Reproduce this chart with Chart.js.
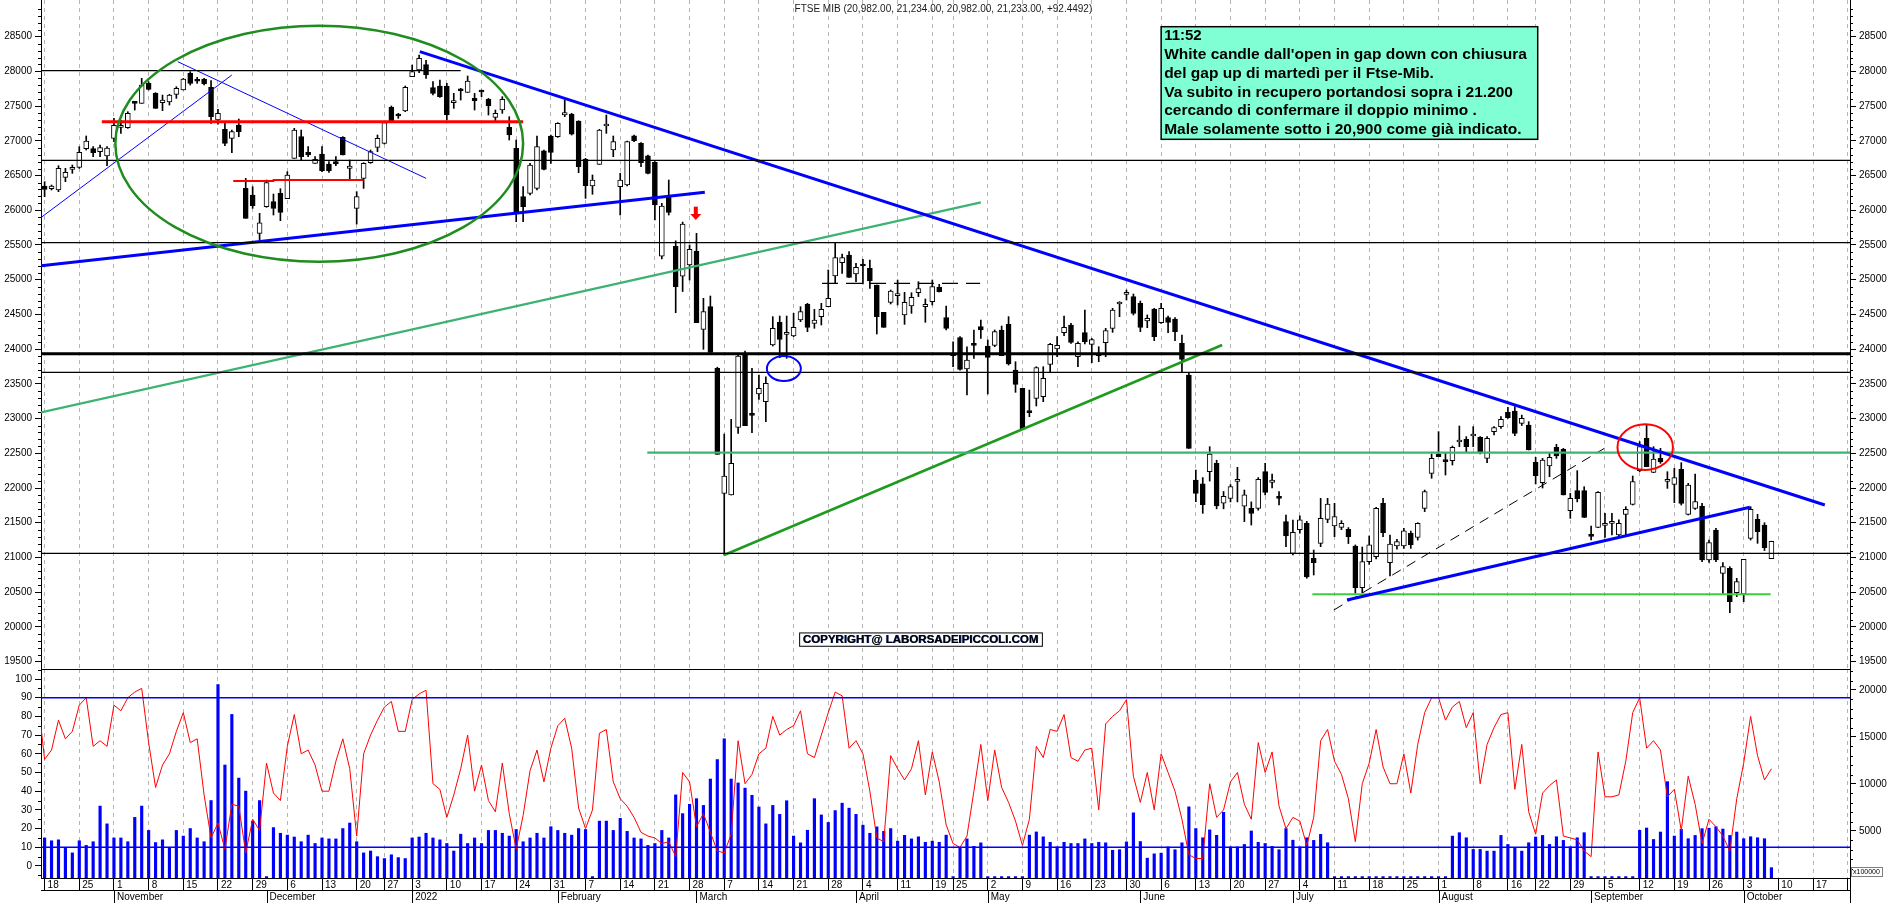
<!DOCTYPE html>
<html>
<head>
<meta charset="utf-8">
<script src="https://cdn.jsdelivr.net/npm/chart.js@4.4.0/dist/chart.umd.min.js"></script>
<style>
  html, body { margin: 0; padding: 0; background: #fff; overflow: hidden; }
  #wrap { position: relative; width: 1890px; height: 903px; }
  canvas { position: absolute; left: 0; }
  #main { top: 0; }
  #lower { top: 669px; }
</style>
</head>
<body>
<div id="wrap">
  <canvas id="main" width="1890" height="669"></canvas>
  <canvas id="lower" width="1890" height="234"></canvas>
</div>
<script>
// FTSE MIB daily candles, one slot per trading day (slot 0 = 18 Oct 2021, slot 249 = 7 Oct 2022)
const open = [
  26350,26312,26292,26474,26590,26618,26888,26888,26844,26782,
  27036,27194,27190,27560,27540,27828,27684,27550,27559,27670,
  27732,27972,27866,27890,27770,27300,27166,27036,27228,26316,
  26220,25668,26052,26124,26244,26167,26748,27060,26834,26676,
  26810,26666,26700,27050,26604,26028,26460,26686,26906,26964,
  27483,27372,27430,27924,28020,28100,27766,27790,27790,27550,
  27742,27699,27612,27722,27598,27338,27444,27194,26892,26196,
  26244,26316,26858,27070,27060,27372,27386,27286,26734,26350,
  26662,27214,26868,26340,26364,27074,26964,26786,26690,25340,
  26186,25480,25050,25212,25413,24285,24612,23723,21923,21899,
  22874,23940,23061,23354,23243,24060,24386,24213,24189,24420,
  24645,24372,24468,24612,25053,25245,25356,25082,25226,25164,
  24924,24530,24674,24770,24492,24621,24813,24612,24684,24890,
  24453,23906,24165,23714,24069,24324,24045,24055,24276,24357,
  23699,23435,23099,23291,23315,23781,24002,24237,24348,23891,
  24237,24069,23906,24093,24300,24650,24789,24756,24660,24405,
  24578,24381,24453,24434,24084,23627,22115,22060,22235,22355,
  21780,21851,22096,21740,21707,21707,22235,22082,21875,21515,
  21059,21400,21490,20987,21203,21549,21453,21433,21405,21165,
  20565,20940,21010,21780,20925,21165,21165,21347,21290,21707,
  22211,22490,22394,22394,22663,22701,22749,22730,22427,22811,
  22884,23090,23109,22932,22908,22370,22077,22317,22586,22557,
  21674,21962,21962,21318,21434,21462,21490,21323,21621,21765,
  22250,22715,22226,22427,22096,22053,22269,21621,21707,21741,
  20963,21395,20771,20843,20492,20473,21275,21549,21467,20982
];
const high = [
  26412,26364,26642,26604,26652,26916,27070,26916,26940,26916,
  27324,27300,27420,27564,27900,27852,27694,27660,27670,27780,
  27900,27996,27915,27900,27867,27454,27252,27156,27314,26460,
  26340,25956,26436,26234,26311,26556,27180,27156,26916,26772,
  26916,26700,26772,27060,26724,26268,26686,26868,27084,27276,
  27502,27396,27790,28092,28236,28160,27852,27876,27828,27684,
  27756,27934,27684,27732,27612,27444,27636,27348,27012,26340,
  26676,27070,26868,27084,27262,27588,27396,27290,26748,26508,
  27166,27372,27070,26532,26998,27084,26974,26796,26700,26100,
  26436,25560,25830,25500,25668,24732,24765,23740,22778,22989,
  23940,23973,23723,23627,23603,24468,24477,24477,24516,24612,
  24660,24573,24660,25140,25538,25370,25404,25236,25293,25284,
  24924,24530,24852,24996,24818,24813,24972,24722,24996,24933,
  24621,24107,24180,24035,24276,24420,24132,24276,24333,24468,
  23819,23435,23411,23747,23747,24084,24180,24477,24372,24107,
  24564,24155,24035,24300,24588,24684,24852,24794,24693,24492,
  24588,24660,24477,24453,24204,23651,22259,22150,22595,22400,
  21950,22050,22298,21971,21800,22150,22355,22200,21950,21611,
  21539,21600,21520,21107,21851,21851,21779,21530,21430,21180,
  21150,21310,21720,21851,21323,21260,21420,21380,21500,21971,
  22490,22812,22500,22605,22893,22740,22884,22740,22740,22884,
  23028,23162,23172,23050,22956,22442,22427,22500,22629,22571,
  21923,22250,22019,21453,21947,21635,21635,21540,21731,22173,
  22668,22908,22595,22571,22235,22283,22365,22067,22202,21780,
  21250,21420,20925,20867,20699,20973,21731,21621,21500,21234
];
const low = [
  26196,26292,26268,26412,26532,26604,26868,26772,26772,26642,
  26988,27108,27180,27444,27540,27732,27468,27435,27516,27612,
  27732,27804,27828,27804,27252,27242,26930,26830,27060,25884,
  26028,25572,26043,25932,25850,26167,26748,26724,26772,26676,
  26556,26546,26642,26796,26436,25802,26316,26676,26844,26955,
  27290,27324,27420,27924,27982,27900,27660,27627,27300,27468,
  27588,27699,27444,27636,27372,27290,27396,27012,25836,25836,
  26220,26292,26580,26676,27050,27348,27084,26542,26172,26230,
  26662,27108,26772,25932,26350,26988,26628,26522,25860,25300,
  25932,24525,24830,24996,24381,23997,23954,22485,21035,21899,
  22787,22898,22797,23277,22955,24045,23877,23868,24180,24396,
  24251,24300,24348,24612,24948,25092,25034,24972,24938,24876,
  24218,24314,24650,24636,24357,24516,24756,24386,24636,24823,
  24276,23748,23699,23340,23868,24155,23354,24035,23906,23771,
  23378,22850,23027,23181,23243,23675,23891,24194,24084,23747,
  24074,23805,23819,23891,24242,24468,24708,24492,24251,24309,
  24122,24372,24237,24122,23670,22571,21803,21635,22100,21700,
  21700,21800,21800,21515,21467,21680,21900,22000,21755,21155,
  21035,21350,20700,20747,21155,21500,21299,21400,21200,20483,
  20493,20900,20980,21300,20733,21120,21130,21130,21250,21660,
  22140,22451,22187,22331,22596,22523,22596,22490,22365,22763,
  22860,23004,22754,22900,22548,22058,22000,22163,22427,21899,
  21563,21800,21573,21251,21429,21290,21323,21299,21299,21755,
  22235,22307,22221,22355,21995,21789,21755,21611,21693,20940,
  20930,20940,20483,20204,20435,20363,21251,21203,21100,20982
];
const close = [
  26302,26350,26604,26546,26604,26835,26998,26830,26902,26897,
  27223,27214,27396,27540,27804,27742,27468,27588,27660,27756,
  27890,27828,27858,27819,27348,27396,26964,27132,27132,25884,
  26066,25821,26398,26028,25970,26508,27156,26772,26796,26734,
  26570,26570,26666,26796,26638,26196,26676,26844,27036,27262,
  27290,27358,27770,27996,28188,27950,27684,27636,27372,27564,
  27722,27862,27579,27703,27502,27396,27598,27084,25980,26052,
  26652,26916,26590,26834,27252,27406,27098,26628,26354,26436,
  27156,27228,26988,26436,26988,27002,26686,26532,26076,26060,
  25970,24900,25800,25437,24381,24540,23954,22485,22173,22355,
  23901,22898,23047,23435,23507,24300,24141,24237,24314,24540,
  24314,24420,24573,24732,25317,25317,25034,25178,25197,24981,
  24468,24314,24837,24790,24674,24746,24871,24645,24900,24828,
  24300,23935,23709,23843,24055,24276,23882,24252,23906,23786,
  23493,22850,23085,23733,23579,24069,24055,24314,24098,24084,
  24107,24136,23915,24266,24564,24660,24813,24516,24314,24444,
  24180,24588,24386,24252,23853,22571,21923,21760,22490,21741,
  21880,22019,22101,21900,21635,22125,21937,22115,21851,21309,
  21361,21540,20720,20925,21563,21770,21587,21491,21299,20565,
  20939,21180,21707,21357,21193,21227,21385,21179,21491,21947,
  22427,22451,22380,22586,22677,22596,22764,22509,22716,22869,
  22989,23013,22788,23004,22548,22178,22403,22442,22461,21899,
  21851,21846,21578,21304,21938,21491,21495,21491,21693,22091,
  22595,22307,22418,22374,22125,22149,21779,22043,21803,20963,
  21213,20963,20867,20363,20651,20973,21693,21371,21141,21233
];
// volume (x100000), right axis of the lower panel
const volume = [
  4260,3960,4060,3270,2670,3960,3470,3860,7650,5760,
  4260,4260,3860,6450,7650,5060,3770,4060,3270,5060,
  4460,5260,4260,3860,8240,20580,12020,17400,10630,9240,
  6050,8240,150,5360,4760,4560,4360,3860,4560,3670,
  4260,4160,4160,5260,5850,3860,2670,2870,2270,2070,
  2470,2170,2070,4260,4360,4760,4260,4060,3670,2870,
  4660,3670,4260,3670,5060,5060,4760,4460,5160,3860,
  4260,4760,4260,5460,5060,4760,4560,5260,5160,150,
  6050,6050,5060,6350,4960,4260,4160,3470,3670,5060,
  4260,8840,6850,7840,8440,7720,10530,12600,14810,10530,
  10110,9560,8800,7550,5760,7720,6770,8220,4460,3740,
  5080,8440,6710,5910,7170,7960,7430,6770,5620,4760,
  5440,4960,5260,3920,4540,4160,4380,3800,3920,3800,
  4560,150,3190,4160,3370,3740,150,150,150,150,
  150,150,4560,4900,4380,3800,3310,3800,3670,3670,
  4160,3670,3800,3740,2950,3010,3840,6930,3880,2110,
  2570,2650,3310,3010,3740,7570,5260,4280,5120,4540,
  6990,3310,3310,3570,5000,3800,3670,3370,3010,5260,
  4020,3310,4280,4000,4640,3750,150,150,150,150,
  150,150,150,150,150,150,150,150,150,150,
  150,150,150,4460,4820,4280,3040,3040,2860,2860,
  4530,3570,3250,2860,3750,4360,4530,3570,4390,4000,
  3320,4280,4820,150,150,150,150,150,150,150,
  5070,5320,4100,4890,10250,4460,5180,4180,4530,5250,
  5300,5460,5210,4530,4890,4180,4390,4280,4180,1100
];
// oscillator (0-100, left axis of the lower panel), first value sits at slot -1
const osc = [
  90,
  57,62,78,68,72,86,90,64,67,64,
  86,83,90,93,95,66,42,54,60,72,
  82,66,68,38,15,23,9,33,32,7,
  25,19,55,39,35,64,81,60,62,54,
  40,40,56,68,52,16,60,70,78,85,
  88,72,72,89,92,94,44,41,26,38,
  52,70,40,54,35,29,55,28,9,27,
  51,62,45,63,75,79,63,31,20,30,
  71,73,45,36,32,26,18,16,15,12,
  13,5,50,45,21,28,18,8,7,17,
  67,44,49,60,63,80,70,73,75,83,
  60,58,70,82,93,91,63,67,60,40,
  15,13,59,52,46,52,67,38,61,45,
  22,12,10,16,40,65,35,62,42,34,
  24,11,25,64,58,73,72,81,58,56,
  62,63,30,76,80,83,89,48,34,50,
  30,60,50,40,25,6,4,4,44,26,
  30,45,50,33,25,66,50,61,32,20,
  26,24,11,26,67,73,56,49,36,13,
  44,55,73,53,44,44,60,39,65,82,
  90,90,78,85,88,74,82,44,65,74,
  81,82,41,65,29,17,39,43,46,16,
  15,14,8,5,61,37,37,38,56,82,
  90,63,67,62,37,41,19,48,33,12,
  25,21,16,8,36,55,80,59,46,52
];

// x axis: week ticks (slot) and their day labels, month starts
const weekTicks = [0,5,10,15,20,25,30,35,40,45,49,53,58,63,68,73,78,83,88,93,98,103,108,113,118,123,128,131,
  136,141,146,151,156,161,166,171,176,181,186,191,196,201,206,211,215,220,225,230,235,240,245,250,255,260];
const weekLabels = ['18','25','1','8','15','22','29','6','13','20','27','3','10','17','24','31','7','14','21','28',
  '7','14','21','28','4','11','19','25','2','9','16','23','30','6','13','20','27','4','11','18','25','1','8','16',
  '22','29','5','12','19','26','3','10','17','24'];
const monthStarts = [10,32,53,74,94,117,136,158,180,201,223,245];
const monthNames = ['November','December','2022','February','March','April','May','June','July','August','September','October'];

// y axis ticks
const priceTicks = [19500,20000,20500,21000,21500,22000,22500,23000,23500,24000,24500,25000,25500,26000,26500,27000,27500,28000,28500];
const oscTicks = [0,10,20,30,40,50,60,70,80,90,100];
const volTicks = [5000,10000,15000,20000];

// drawn studies: [slot, price] end points
const res28000 = [[-0.52, 28010], [60, 28010]];
const blackLevels = [26720, 25535, 23666, 21060];
const blackLevelThick = 23932;
const redLevel = [[8.25, 27276], [69.0, 27276]];
const redThin = [[27.2, 26422], [33.0, 26422], [33.0, 26436], [46.0, 26436]];
const blueThinUp = [[-0.52, 25896], [27.0, 27948]];
const blueThinDown = [[19.2, 28140], [55.0, 26460]];
const blueUpper = [[54.1, 28285], [256.7, 21755]];
const blueLowerLeft = [[-0.52, 25202], [95.2, 26260]];
const blueLowerRight = [[187.8, 20387], [245.9, 21722]];
const greenLong = [[-0.52, 23090], [135.0, 26114]];
const green22500 = [[86.9, 22509], [260.33, 22509]];
const greenRising = [[98.0, 21035], [169.8, 24060]];
const lime20470 = [[182.8, 20470], [248.9, 20470]];
const dashFlat = [[112.1, 24948], [134.9, 24948]];
const dashDiag = [[185.9, 20243], [224.9, 22571]];
const oscLevels = [10, 90];

// annotations: ellipse [slot, price, radius in slots, radius in points]
const ellipseGreen = [39.6, 26959, 29.4, 1700];
const ellipseBlue = [106.6, 23721, 2.45, 180];
const ellipseRed = [230.8, 22588, 4.0, 329];
const arrowRed = [93.9, 26052, 25860];
const noteBox = [161.0, 28644, 215.3, 27022];
const noteLines = ['11:52',
  "White candle dall'open in gap down con chiusura",
  'del gap up di martedì per il Ftse-Mib.',
  'Va subito in recupero portandosi sopra i 21.200',
  'cercando di confermare il doppio minimo .',
  'Male solamente sotto i 20,900 come già indicato.'];
const headerText = 'FTSE MIB (20,982.00, 21,234.00, 20,982.00, 21,233.00, +92.4492)';
const headerAt = [129.6, 28895];
const copyBox = [108.8, 19920, 143.8, 19728];

const X_MIN = -0.52, X_MAX = 260.33;
const FONT = "'Liberation Sans', Arial, sans-serif";
Chart.defaults.font.family = FONT;
Chart.defaults.font.size = 10;
Chart.defaults.color = '#000';

const slots = open.map((_, i) => i);
const across = v => [[X_MIN, v], [X_MAX, v]];
const seg = (arr, color, width, dash, axis) => ({
  type: 'line',
  data: arr.map(([x, y]) => ({ x, y })),
  borderColor: color,
  borderWidth: width,
  borderDash: dash || [],
  pointRadius: 0,
  fill: false,
  order: 0,
  yAxisID: axis || 'y'
});

const yAxis = (pos, min, max, ticks, w) => ({
  type: 'linear', position: pos, min, max, bounds: 'data',
  ticks: { callback: v => String(v), padding: 3, autoSkip: false },
  grid: { drawOnChartArea: false, tickLength: 6, color: '#000', lineWidth: 1 },
  border: { color: '#000', width: 1 },
  afterBuildTicks: ax => { ax.ticks = ticks.map(v => ({ value: v })); },
  afterFit: ax => { ax.width = w; ax.paddingTop = 0; ax.paddingBottom = 0; }
});

function minor(ctx, scale, from, to, step, skip, isLeft) {
  ctx.save();
  ctx.strokeStyle = '#000';
  ctx.lineWidth = 1;
  ctx.beginPath();
  for (let v = from; v <= to; v += step) {
    if (v % skip === 0) continue;
    const py = Math.round(scale.getPixelForValue(v)) + 0.5;
    if (py < scale.top || py > scale.bottom) continue;
    const x0 = isLeft ? scale.right : scale.left;
    ctx.moveTo(x0, py);
    ctx.lineTo(isLeft ? x0 - 3 : x0 + 3, py);
  }
  ctx.stroke();
  ctx.restore();
}

function ellipse(ctx, x, y, e, color, width) {
  const cx = x.getPixelForValue(e[0]), cy = y.getPixelForValue(e[1]);
  const rx = x.getPixelForValue(e[0] + e[2]) - cx;
  const ry = y.getPixelForValue(e[1] - e[3]) - cy;
  ctx.save();
  ctx.strokeStyle = color;
  ctx.lineWidth = width;
  ctx.beginPath();
  ctx.ellipse(cx, cy, rx, ry, 0, 0, Math.PI * 2);
  ctx.stroke();
  ctx.restore();
}

const mainDecor = {
  id: 'mainDecor',
  afterDraw(chart) {
    const { ctx, scales: { x, y, y2 } } = chart;
    minor(ctx, y, 19400, 29000, 100, 500, true);
    minor(ctx, y2, 19400, 29000, 100, 500, false);

    ellipse(ctx, x, y, ellipseGreen, '#1e8c1e', 2.5);
    ellipse(ctx, x, y, ellipseBlue, '#0000ff', 2);
    ellipse(ctx, x, y, ellipseRed, '#ff0000', 2);

    // red arrow
    const ax = x.getPixelForValue(arrowRed[0]);
    const aTop = y.getPixelForValue(arrowRed[1]);
    const aTip = y.getPixelForValue(arrowRed[2]);
    const aMid = aTop + (aTip - aTop) * 0.55;
    ctx.save();
    ctx.fillStyle = '#ff0000';
    ctx.fillRect(ax - 2, aTop, 4, aMid - aTop);
    ctx.beginPath();
    ctx.moveTo(ax - 5.5, aMid);
    ctx.lineTo(ax + 5.5, aMid);
    ctx.lineTo(ax, aTip);
    ctx.closePath();
    ctx.fill();
    ctx.restore();

    // header
    ctx.save();
    ctx.fillStyle = '#1a1a1a';
    ctx.font = '10px ' + FONT;
    ctx.textAlign = 'center';
    ctx.textBaseline = 'middle';
    ctx.fillText(headerText, x.getPixelForValue(headerAt[0]), y.getPixelForValue(headerAt[1]));
    ctx.restore();

    // comment box
    const bx0 = x.getPixelForValue(noteBox[0]), by0 = y.getPixelForValue(noteBox[1]);
    const bx1 = x.getPixelForValue(noteBox[2]), by1 = y.getPixelForValue(noteBox[3]);
    ctx.save();
    ctx.fillStyle = '#80ffd4';
    ctx.fillRect(bx0, by0, bx1 - bx0, by1 - by0);
    ctx.strokeStyle = '#000';
    ctx.lineWidth = 1.5;
    ctx.strokeRect(bx0, by0, bx1 - bx0, by1 - by0);
    ctx.fillStyle = '#000';
    ctx.textAlign = 'left';
    ctx.textBaseline = 'middle';
    noteLines.forEach((t, i) => {
      ctx.font = (i === 0 ? 'bold 15px ' : 'bold 15.5px ') + FONT;
      ctx.fillText(t, bx0 + 3, by0 + 9 + i * 18.85, bx1 - bx0 - 6);
    });
    ctx.restore();

    // copyright
    const cx0 = x.getPixelForValue(copyBox[0]), cy0 = y.getPixelForValue(copyBox[1]);
    const cx1 = x.getPixelForValue(copyBox[2]), cy1 = y.getPixelForValue(copyBox[3]);
    ctx.save();
    ctx.fillStyle = '#fff';
    ctx.fillRect(cx0, cy0, cx1 - cx0, cy1 - cy0);
    ctx.strokeStyle = '#000';
    ctx.lineWidth = 1;
    ctx.strokeRect(cx0 + 0.5, cy0 + 0.5, cx1 - cx0, cy1 - cy0);
    ctx.font = 'bold 11.5px ' + FONT;
    ctx.textAlign = 'center';
    ctx.textBaseline = 'middle';
    ctx.fillStyle = '#2040a0';
    ctx.fillText('COPYRIGHT@ LABORSADEIPICCOLI.COM', (cx0 + cx1) / 2 + 0.6, (cy0 + cy1) / 2 + 1.1, cx1 - cx0 - 4);
    ctx.fillStyle = '#000';
    ctx.fillText('COPYRIGHT@ LABORSADEIPICCOLI.COM', (cx0 + cx1) / 2, (cy0 + cy1) / 2 + 0.5, cx1 - cx0 - 4);
    ctx.restore();
  }
};

const lowerDecor = {
  id: 'lowerDecor',
  afterDraw(chart) {
    const { ctx, chartArea: a, scales: { x, yo, yv } } = chart;
    minor(ctx, yo, -5, 105, 5, 10, true);
    minor(ctx, yv, 1000, 22000, 1000, 5000, false);
    ctx.save();
    ctx.strokeStyle = '#000';
    ctx.lineWidth = 1;
    ctx.beginPath();
    ctx.moveTo(a.left, 0.5); ctx.lineTo(a.right, 0.5);
    ctx.moveTo(a.left, a.bottom + 12.5); ctx.lineTo(a.right, a.bottom + 12.5);
    ctx.moveTo(a.right + 0.5, a.bottom); ctx.lineTo(a.right + 0.5, chart.height);
    monthStarts.forEach(s => {
      const px = Math.round(x.getPixelForValue(s)) + 0.5;
      ctx.moveTo(px, a.bottom + 12); ctx.lineTo(px, chart.height);
    });
    ctx.stroke();

    ctx.beginPath();
    ctx.rect(a.left, a.bottom, a.right - a.left + 1, chart.height - a.bottom);
    ctx.clip();
    ctx.fillStyle = '#000';
    ctx.font = '10px ' + FONT;
    ctx.textAlign = 'left';
    ctx.textBaseline = 'middle';
    weekTicks.forEach((s, i) => ctx.fillText(weekLabels[i], x.getPixelForValue(s) + 3, a.bottom + 7));
    monthStarts.forEach((s, i) => ctx.fillText(monthNames[i], x.getPixelForValue(s) + 3, a.bottom + 19));
    ctx.restore();

    // volume multiplier tag
    ctx.save();
    ctx.strokeStyle = '#808080';
    ctx.lineWidth = 1;
    ctx.strokeRect(a.right + 1.5, a.bottom - 10.5, 31, 9);
    ctx.fillStyle = '#000';
    ctx.font = '7px ' + FONT;
    ctx.textBaseline = 'middle';
    ctx.fillText('x100000', a.right + 3, a.bottom - 6);
    ctx.restore();
  }
};

const mainSets = [
  { type: 'bar', data: slots.map(i => ({ x: i, y: [low[i], high[i]] })), backgroundColor: '#000',
    barThickness: 1, grouped: false, order: 3 },
  { type: 'bar', data: slots.map(i => ({ x: i, y: [open[i], close[i]] })),
    backgroundColor: slots.map(i => close[i] >= open[i] ? '#fff' : '#000'),
    borderColor: '#000', borderWidth: 1, borderSkipped: false, barThickness: 5, minBarLength: 2,
    grouped: false, order: 2 },
  seg(res28000, '#000', 1.3),
  ...blackLevels.map(v => seg(across(v), '#000', 1.3)),
  seg(across(blackLevelThick), '#000', 3),
  seg(redLevel, '#ff0000', 3),
  seg(redThin, '#ff0000', 1.8),
  seg(blueThinUp, '#0000ff', 1),
  seg(blueThinDown, '#0000ff', 1),
  seg(blueUpper, '#0000ff', 3),
  seg(blueLowerLeft, '#0000ff', 3),
  seg(blueLowerRight, '#0000ff', 3),
  seg(greenLong, '#3cb371', 2.2),
  seg(green22500, '#3cb371', 2.2),
  seg(greenRising, '#1e9b1e', 2.5),
  seg(lime20470, '#3ccf3c', 2.2),
  seg(dashFlat, '#000', 1.2, [16, 8]),
  seg(dashDiag, '#000', 1, [10, 7])
];

new Chart(document.getElementById('main'), {
  type: 'bar',
  data: { datasets: mainSets },
  options: {
    responsive: false, maintainAspectRatio: false, animation: false,
    layout: { padding: 0 },
    plugins: { legend: { display: false }, tooltip: { enabled: false } },
    scales: {
      x: {
        type: 'linear', min: X_MIN, max: X_MAX, offset: false, bounds: 'data',
        ticks: { display: false },
        grid: { color: '#b4b4b4', lineWidth: 1, drawTicks: false, offset: false },
        border: { display: false, dash: [4, 4] },
        afterBuildTicks: ax => { ax.ticks = weekTicks.map(v => ({ value: v })); },
        afterFit: ax => { ax.height = 0; }
      },
      y: yAxis('left', 19393.3, 29028.6, priceTicks, 41),
      y2: yAxis('right', 19393.3, 29028.6, priceTicks, 40)
    }
  },
  plugins: [mainDecor]
});

new Chart(document.getElementById('lower'), {
  type: 'bar',
  data: {
    datasets: [
      { type: 'bar', data: slots.map(i => ({ x: i, y: volume[i] })), backgroundColor: '#0000ff',
        barThickness: 2.5, grouped: false, order: 3, yAxisID: 'yv' },
      ...oscLevels.map(v => seg(across(v), '#0000ff', 1.5, null, 'yo')),
      { type: 'line', data: osc.map((v, i) => ({ x: i - 1, y: v })), borderColor: '#ff0000', borderWidth: 1,
        pointRadius: 0, fill: false, order: 0, yAxisID: 'yo' }
    ]
  },
  options: {
    responsive: false, maintainAspectRatio: false, animation: false,
    layout: { padding: 0 },
    plugins: { legend: { display: false }, tooltip: { enabled: false } },
    scales: {
      x: {
        type: 'linear', min: X_MIN, max: X_MAX, offset: false, bounds: 'data',
        ticks: { display: false },
        grid: { color: '#b4b4b4', lineWidth: 1, drawTicks: true, tickLength: 12, tickColor: '#000', offset: false },
        border: { display: true, color: '#000', dash: [4, 4] },
        afterBuildTicks: ax => { ax.ticks = weekTicks.map(v => ({ value: v })); },
        afterFit: ax => { ax.height = 25; }
      },
      yo: yAxis('left', -6.42, 105.35, oscTicks, 41),
      yv: yAxis('right', 0, 22234, volTicks, 40)
    }
  },
  plugins: [lowerDecor]
});
</script>
</body>
</html>
